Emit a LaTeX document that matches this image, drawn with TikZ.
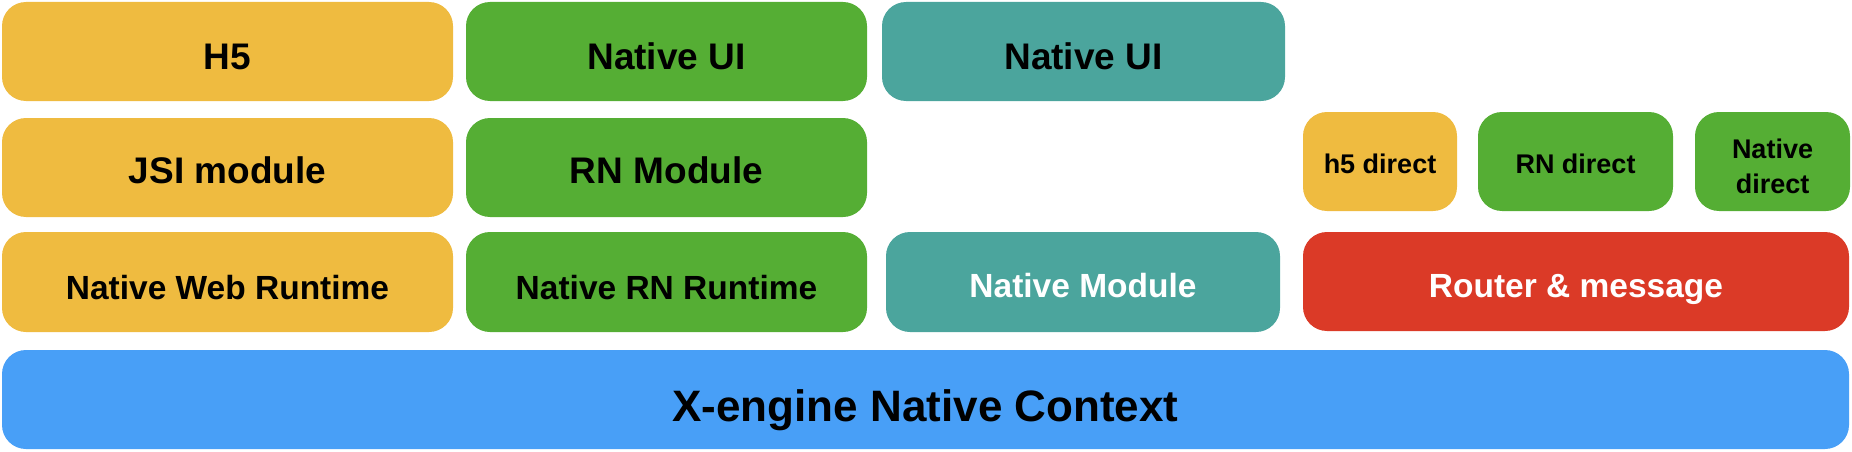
\documentclass[tikz,border=0pt]{standalone}
\usepackage{fontspec}
\setmainfont{Liberation Sans}
\definecolor{cy}{RGB}{239,187,64}
\definecolor{cg}{RGB}{85,174,52}
\definecolor{ct}{RGB}{75,165,157}
\definecolor{cr}{RGB}{219,58,39}
\definecolor{cb}{RGB}{72,159,247}
\begin{document}
\begin{tikzpicture}[x=1pt,y=-1pt,
  box/.style={rounded corners=24pt, inner sep=0pt, outer sep=0pt, text=black, text depth=0pt},
  fbig/.style={font=\bfseries\fontsize{37}{37}\selectfont},
  fmid/.style={font=\bfseries\fontsize{33.5}{33.5}\selectfont},
  fsmall/.style={font=\bfseries\fontsize{27}{35}\selectfont},
  fhuge/.style={font=\bfseries\fontsize{44}{44}\selectfont},
  row1/.style={box, fbig, minimum height=99pt, text height=37pt},
  row2/.style={box, fbig, minimum height=99pt, text height=31pt},
  row3/.style={box, fmid, minimum height=100pt, text height=32pt},
  smallbox/.style={box, fsmall, minimum height=99pt, text height=23pt},
]
\useasboundingbox (0,0) rectangle (1852,452);
% row 1
\node[row1, fill=cy, minimum width=451pt] (h5) at (227.5,51.5) {H5};
\node[row1, fill=cg, minimum width=401pt] (nuig) at (666.5,51.5) {Native UI};
\node[row1, fill=ct, minimum width=403pt] (nuit) at (1083.5,51.5) {Native UI};
% row 2
\node[row2, fill=cy, minimum width=451pt] (jsi) at (227.5,167.5) {JSI module};
\node[row2, fill=cg, minimum width=401pt] (rnm) at (666.5,167.5) {RN Module};
\node[smallbox, fill=cy, minimum width=154pt] (h5d) at (1380,161.5) {h5 direct};
\node[smallbox, fill=cg, minimum width=195pt] (rnd) at (1575.5,161.5) {RN direct};
\node[box, fsmall, text depth=, fill=cg, minimum width=155pt, minimum height=99pt, align=center] (nd) at (1772.5,161.5) {\rule{0pt}{30pt}Native\\direct};
% row 3
\node[row3, fill=cy, minimum width=451pt, text height=34pt] (nwr) at (227.5,282) {Native Web Runtime};
\node[row3, fill=cg, minimum width=401pt, text height=34pt] (nrr) at (666.5,282) {Native RN Runtime};
\node[row3, fill=ct, minimum width=394pt, text=white, text height=30pt] (nmod) at (1083,282) {Native Module};
\node[row3, fill=cr, minimum width=546pt, minimum height=99pt, text=white, text height=31pt] (router) at (1576,281.5) {Router \& message};
% row 4
\node[box, fhuge, fill=cb, minimum width=1847pt, minimum height=99pt, text height=43pt] (ctx) at (925.5,399.5) {X-engine Native Context};
\end{tikzpicture}
\end{document}
